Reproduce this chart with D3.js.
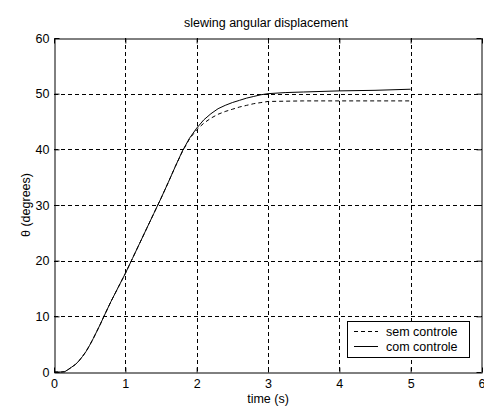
<!DOCTYPE html>
<html>
<head>
<meta charset="utf-8">
<script src="https://cdn.jsdelivr.net/npm/d3@7"></script>
<style>
html,body{margin:0;padding:0;background:#fff;}
svg{display:block;}
text{font-family:"Liberation Sans",Arial,sans-serif;font-size:12.5px;fill:#000;}
</style>
</head>
<body>
<svg id="chart" width="484" height="408"></svg>
<script>
const title = "slewing angular displacement";
const xLabel = "time (s)";
const yLabel = "θ (degrees)";
const xTicks = [0,1,2,3,4,5,6];
const yTicks = [0,10,20,30,40,50,60];
const seriesNames = ["sem controle","com controle"];

const time = [0,0.1,0.15,0.2,0.25,0.3,0.35,0.4,0.45,0.5,0.55,0.6,0.65,0.7,0.8,0.9,1.0,1.1,1.2,1.3,1.4,1.5,1.6,1.7,1.8,1.9,2.0,2.1,2.2,2.3,2.4,2.5,2.6,2.7,2.8,2.9,3.0,3.25,3.5,4.0,4.5,5.0];
const semControle = [0,0,0.05,0.45,0.9,1.35,2.0,2.8,3.7,4.8,6.0,7.3,8.6,10,12.7,15.2,17.7,20.4,23.1,25.8,28.5,31.2,34.0,36.9,39.6,41.9,43.5,44.7,45.6,46.3,46.8,47.2,47.6,47.9,48.2,48.4,48.6,48.65,48.7,48.7,48.7,48.7];
const comControle = [0,0,0.05,0.45,0.9,1.35,2.0,2.8,3.7,4.8,6.0,7.3,8.6,10,12.7,15.2,17.7,20.4,23.1,25.8,28.5,31.2,34.0,36.9,39.7,42.0,43.8,45.3,46.4,47.3,47.9,48.4,48.8,49.2,49.5,49.8,50.0,50.2,50.3,50.5,50.6,50.8];

const L=54, R=482, T=38, B=372;
const svg = d3.select("#chart");
const x = d3.scaleLinear().domain([0,6]).range([L,R]);
const y = d3.scaleLinear().domain([0,60]).range([B,T]);
const px = v => Math.round(x(v))+0.5;
const py = v => Math.round(y(v))+0.5;

// grid
const g = svg.append("g");
g.selectAll(".gx").data(xTicks.slice(1,-1)).enter().append("line")
  .attr("x1",px).attr("x2",px).attr("y1",T).attr("y2",B)
  .attr("stroke","#000").attr("stroke-width",1).attr("stroke-dasharray","4,3");
g.selectAll(".gy").data(yTicks.slice(1,-1)).enter().append("line")
  .attr("y1",py).attr("y2",py).attr("x1",L).attr("x2",R)
  .attr("stroke","#000").attr("stroke-width",1).attr("stroke-dasharray","4,3");

// axes with inward ticks
const axB = d3.axisBottom(x).tickValues(xTicks).tickSizeInner(-5).tickSizeOuter(0).tickPadding(7).tickFormat(d3.format("d"));
const axL = d3.axisLeft(y).tickValues(yTicks).tickSizeInner(-5).tickSizeOuter(0).tickPadding(5).tickFormat(d3.format("d"));
const axT = d3.axisTop(x).tickValues(xTicks).tickSizeInner(-5).tickSizeOuter(0).tickFormat("");
const axR = d3.axisRight(y).tickValues(yTicks).tickSizeInner(-5).tickSizeOuter(0).tickFormat("");
function style(sel){
  sel.select(".domain").attr("stroke","#000");
  sel.selectAll(".tick line").attr("stroke","#000");
  sel.selectAll("text").attr("font-family","Liberation Sans, Arial, sans-serif").attr("font-size",12).attr("fill","#000");
}
const gB = svg.append("g").attr("transform",`translate(0,${B+0.5})`).call(axB).call(style);
gB.selectAll(".tick text").filter(d=>d===6).attr("text-anchor","end").attr("dx",3);
svg.append("g").attr("transform",`translate(${L+0.5},0)`).call(axL).call(style);
svg.append("g").attr("transform",`translate(0,${T+0.5})`).call(axT).call(style);
svg.append("g").attr("transform",`translate(${R-0.5},0)`).call(axR).call(style);

// lines
const line = vals => d3.line().x((d,i)=>x(time[i])).y(d=>y(d))(vals);
svg.append("path").attr("d",line(semControle)).attr("fill","none").attr("stroke","#000").attr("stroke-width",1).attr("stroke-dasharray","4,3");
svg.append("path").attr("d",line(comControle)).attr("fill","none").attr("stroke","#000").attr("stroke-width",1);

// title and labels
svg.append("text").attr("x",266).attr("y",27).attr("text-anchor","middle").text(title);
svg.append("text").attr("x",268).attr("y",403).attr("text-anchor","middle").text(xLabel);
svg.append("text").attr("transform",`translate(30,${(T+B)/2}) rotate(-90)`).attr("text-anchor","middle").text(yLabel);

// legend
const lg = svg.append("g");
lg.append("rect").attr("x",347.5).attr("y",321.5).attr("width",122).attr("height",36).attr("fill","#fff").attr("stroke","#000");
const styles = ["4,3",null];
seriesNames.forEach((n,i)=>{
  const yy = 331.5 + i*15;
  const l = lg.append("line").attr("x1",354).attr("x2",378).attr("y1",yy).attr("y2",yy).attr("stroke","#000");
  if(styles[i]) l.attr("stroke-dasharray",styles[i]);
  lg.append("text").attr("x",386).attr("y",yy+4.5).text(n);
});
</script>
</body>
</html>
